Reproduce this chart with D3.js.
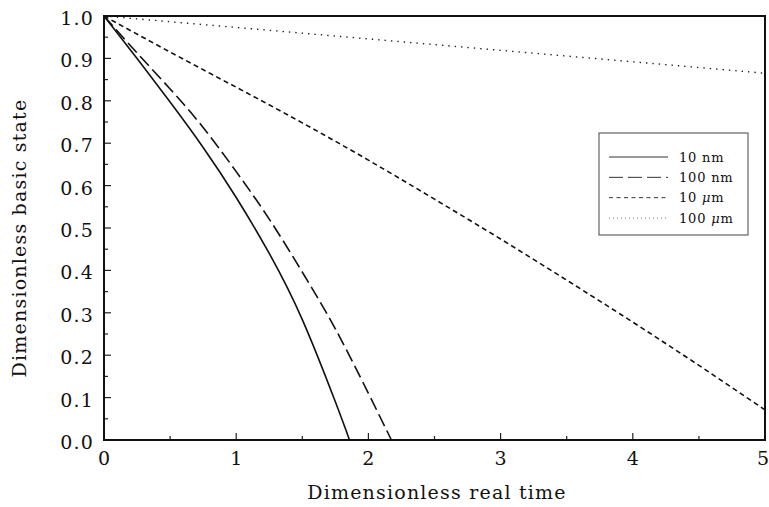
<!DOCTYPE html>
<html>
<head>
<meta charset="utf-8">
<script src="https://cdn.jsdelivr.net/npm/d3@7"></script>
<style>
  body { margin: 0; background: #fff; }
  text { font-family: "DejaVu Serif", serif; fill: #111; }
  .frame { fill: none; stroke: #111; stroke-width: 2; }
  .tick { stroke: #222; stroke-width: 1.2; }
  .curve { fill: none; stroke: #111; stroke-width: 1.6; }
</style>
</head>
<body>
<svg id="chart" width="769" height="507"></svg>
<script>
// series (dimensionless time, dimensionless basic state)
const t10nm = [0, 0.25, 0.5, 0.75, 1.0, 1.25, 1.5, 1.75, 1.857];
const s10nm = [1.0, 0.9, 0.797, 0.69, 0.572, 0.44, 0.284, 0.09, 0.0];

const t100nm = [0, 0.25, 0.5, 0.75, 1.0, 1.25, 1.5, 1.75, 2.0, 2.174];
const s100nm = [1.0, 0.913, 0.828, 0.737, 0.633, 0.521, 0.396, 0.262, 0.11, 0.0];

const t10um = [0, 0.5, 1, 1.5, 2, 2.5, 3, 3.5, 4, 4.5, 5];
const s10um = [1.0, 0.915, 0.832, 0.748, 0.66, 0.568, 0.474, 0.377, 0.278, 0.176, 0.071];

const t100um = [0, 1, 2, 3, 4, 5];
const s100um = [1.0, 0.973, 0.946, 0.919, 0.892, 0.865];

const xTicks = [0, 1, 2, 3, 4, 5];
const yTicks = [0.0, 0.1, 0.2, 0.3, 0.4, 0.5, 0.6, 0.7, 0.8, 0.9, 1.0];

const series = [
  { name: "10 nm", unit: "nm", num: "10", t: t10nm, s: s10nm, dash: null, color: "#111", width: 1.6 },
  { name: "100 nm", unit: "nm", num: "100", t: t100nm, s: s100nm, dash: "13,5", color: "#111", width: 1.6 },
  { name: "10 um", unit: "\u03bcm", num: "10", t: t10um, s: s10um, dash: "5,3.5", color: "#111", width: 1.6 },
  { name: "100 um", unit: "\u03bcm", num: "100", t: t100um, s: s100um, dash: "1.4,5", color: "#222", width: 1.4 }
];

const svg = d3.select("svg#chart");
const x = d3.scaleLinear().domain([0, 5]).range([104, 765]);
const y = d3.scaleLinear().domain([0, 1]).range([440, 16]);

// inward ticks, major + minor
const g = svg.append("g");
const xMinor = d3.range(0, 5.01, 0.5);
const yMinor = d3.range(0, 1.001, 0.05);
g.selectAll("line.xt").data(xMinor).enter().append("line")
  .attr("class", "tick")
  .attr("x1", d => x(d)).attr("x2", d => x(d))
  .attr("y1", y(0)).attr("y2", (d, i) => y(0) - (i % 2 ? 4 : 7));
g.selectAll("line.yt").data(yMinor).enter().append("line")
  .attr("class", "tick")
  .attr("y1", d => y(d)).attr("y2", d => y(d))
  .attr("x1", x(0)).attr("x2", (d, i) => x(0) + (i % 2 ? 4 : 7));

// tick labels (last one pushed in so it stays on the page)
g.selectAll("text.xl").data(xTicks).enter().append("text")
  .attr("x", (d, i) => i == xTicks.length - 1 ? 769 : x(d)).attr("y", 465)
  .attr("text-anchor", (d, i) => i == xTicks.length - 1 ? "end" : "middle")
  .style("font-size", "19px")
  .text(d => d3.format("d")(d));
g.selectAll("text.yl").data(yTicks).enter().append("text")
  .attr("x", 94).attr("y", d => y(d) + 9)
  .attr("text-anchor", "end")
  .style("font-size", "19px")
  .style("letter-spacing", "1.2px")
  .text(d => d3.format(".1f")(d));

// curves
const line = d3.line().x(d => x(d[0])).y(d => y(d[1])).curve(d3.curveNatural);
svg.append("g").selectAll("path").data(series).enter().append("path")
  .attr("class", "curve")
  .attr("d", d => line(d3.zip(d.t, d.s)))
  .style("stroke", d => d.color)
  .style("stroke-width", d => d.width)
  .style("stroke-dasharray", d => d.dash);

// frame
svg.append("rect").attr("class", "frame")
  .attr("x", x(0)).attr("y", y(1))
  .attr("width", x(5) - x(0)).attr("height", y(0) - y(1));

// axis titles
svg.append("text")
  .attr("x", 437).attr("y", 499)
  .attr("text-anchor", "middle")
  .style("font-size", "19px")
  .style("letter-spacing", "1.2px")
  .text("Dimensionless real time");
svg.append("text")
  .attr("transform", "translate(26,238) rotate(-90)")
  .attr("text-anchor", "middle")
  .style("font-size", "19px")
  .style("letter-spacing", "1.2px")
  .text("Dimensionless basic state");

// legend
const legend = svg.append("g");
legend.append("rect")
  .attr("x", 599).attr("y", 133).attr("width", 149).attr("height", 102)
  .style("fill", "#fff").style("stroke", "#444").style("stroke-width", 1);
const rowY = d3.scaleLinear().domain([0, 3]).range([157, 218]);
const rows = legend.selectAll("g.row").data(series).enter().append("g");
rows.append("line")
  .attr("x1", 609).attr("x2", 668)
  .attr("y1", (d, i) => rowY(i)).attr("y2", (d, i) => rowY(i))
  .style("stroke", (d, i) => i == 3 ? "#777" : "#333")
  .style("stroke-width", 1)
  .style("stroke-dasharray", (d, i) => ["", "14,5", "4,3.5", "1,3"][i]);
const lt = rows.append("text")
  .attr("x", 679).attr("y", (d, i) => rowY(i) + 4.5)
  .style("font-size", "13px")
  .style("letter-spacing", "0.8px");
lt.append("tspan").text(d => d.num + " ");
lt.append("tspan").text(d => d.unit[0]).style("font-style", d => d.unit[0] == "\u03bc" ? "italic" : "normal");
lt.append("tspan").text(d => d.unit.slice(1));
</script>
</body>
</html>
